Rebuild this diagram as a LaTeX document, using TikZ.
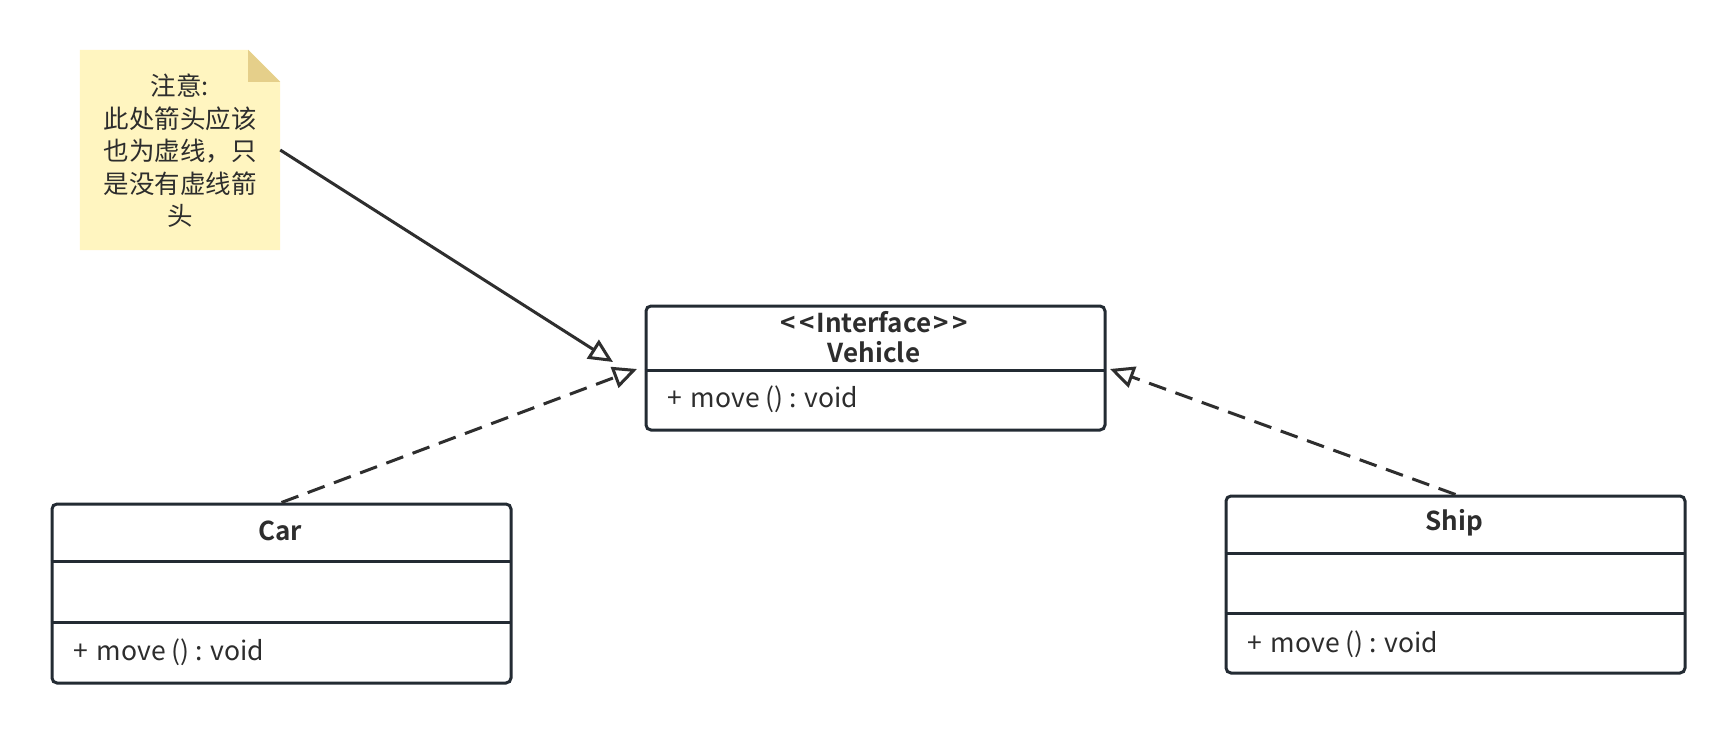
\documentclass[tikz,border=0pt]{standalone}
\usepackage{fontspec}
\setmainfont{Noto Sans CJK SC}[BoldFont={Noto Sans CJK SC Bold}]
\usetikzlibrary{arrows.meta}
\definecolor{linec}{HTML}{2E2E2E}
\definecolor{boxc}{HTML}{232B33}
\definecolor{txt}{HTML}{2D2D2D}
\definecolor{notefill}{HTML}{FFF5C0}
\definecolor{notefold}{HTML}{E5CF8A}
\begin{document}
\begin{tikzpicture}[x=1pt,y=-1pt,
  classbox/.style={draw=boxc, line width=3pt, rounded corners=5pt, inner sep=0pt, anchor=north west},
  sepline/.style={draw=boxc, line width=3pt},
  lbl/.style={text=txt, font=\fontsize{26.5}{30}\selectfont, inner sep=0pt},
  ttl/.style={lbl, font=\fontsize{26}{30}\selectfont\bfseries, align=center},
  meth/.style={lbl, anchor=west},
  notetxt/.style={text=txt, font=\fontsize{25.5}{32.5}\selectfont, align=center, inner sep=0pt},
  realize/.style={draw=linec, line width=3pt, dash pattern=on 18pt off 10pt, -{Triangle[open,length=24pt,width=22pt]}},
  pointer/.style={draw=linec, line width=3pt, -{Triangle[open,length=24pt,width=22pt]}}
]
\useasboundingbox (0,0) rectangle (1733,731);
\fill[white] (0,0) rectangle (1733,731);

% note
\node (note) [minimum width=200pt, minimum height=200pt, inner sep=0pt] at (180,150) {};
\fill[notefill] (note.south west) -- (note.north west) -- ([xshift=-32pt]note.north east)
  -- ([yshift=-32pt]note.north east) -- (note.south east) -- cycle;
\fill[notefold] ([xshift=-32pt]note.north east) -- ([yshift=-32pt]note.north east)
  -- ([xshift=-32pt,yshift=-32pt]note.north east) -- cycle;
\node[notetxt] (notet) at (180,151) {注意:\\此处箭头应该\\也为虚线，只\\是没有虚线箭\\头};

% Vehicle
\node[classbox, minimum width=459pt, minimum height=124pt] (veh) at (644.5,304.5) {};
\draw[sepline] (644.5,370) -- (1103.5,370);
\node[ttl] (vehT) at (874,337) {<\kern4pt<\kern2pt Interface\kern2pt>\kern4pt>\\Vehicle};
\node[meth] (vehM) at (667,399) {+\kern3pt{} move () : void};

% Car
\node[classbox, minimum width=459pt, minimum height=179pt] (car) at (50.5,502.5) {};
\draw[sepline] (50.5,561) -- (509.5,561);
\draw[sepline] (50.5,622) -- (509.5,622);
\node[ttl] (carT) at (280,531) {Car};
\node[meth] (carM) at (73,652) {+\kern3pt{} move () : void};

% Ship
\node[classbox, minimum width=459pt, minimum height=177pt] (ship) at (1224.5,494.5) {};
\draw[sepline] (1224.5,553) -- (1683.5,553);
\draw[sepline] (1224.5,613) -- (1683.5,613);
\node[ttl] (shipT) at (1454,523) {Ship};
\node[meth] (shipM) at (1247,644) {+\kern3pt{} move () : void};

% connectors
\coordinate (ntip) at (613,362);
\coordinate (ctip) at (637,369);
\coordinate (stip) at (1110,369);
\draw[pointer] (note.east) -- (ntip);
\draw[realize] (car.north) -- (ctip);
\draw[realize] (ship.north) -- (stip);
\end{tikzpicture}
\end{document}
